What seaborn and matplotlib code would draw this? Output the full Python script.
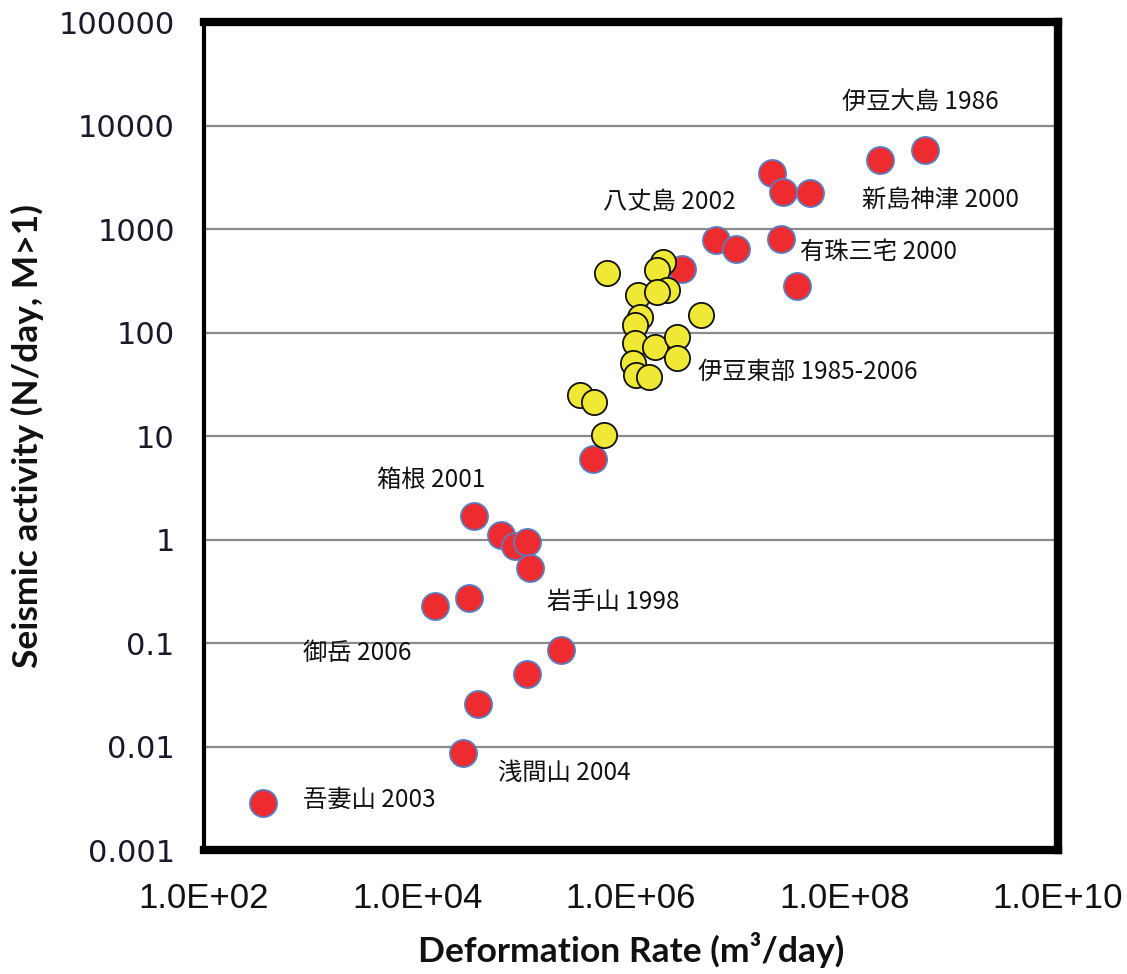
import matplotlib
matplotlib.use("Agg")
import matplotlib.pyplot as plt
import seaborn as sns
import pandas as pd
from matplotlib.ticker import FixedLocator, FixedFormatter

# ---------------- data ----------------
red_rate = [357, 26700, 36900, 106000, 221000, 14600, 30300, 33800, 60500, 81900,
            106000, 113000, 440000, 3.0e6, 6.25e6, 9.6e6, 2.09e7, 2.66e7, 4.75e7,
            2.54e7, 3.59e7, 2.15e8, 5.68e8]
red_seis = [0.00284, 0.00865, 0.0258, 0.0501, 0.0855, 0.228, 0.272, 1.69, 1.10, 0.865,
            0.946, 0.531, 6.0, 411, 783, 641, 3480, 2280, 2230,
            800, 281, 4650, 5800]

yel_rate = [5.92e5, 1.98e6, 1.74e6, 1.17e6, 2.16e6, 1.74e6, 1.21e6, 1.09e6, 4.50e6,
            1.09e6, 1.68e6, 2.68e6, 2.68e6, 1.04e6, 1.12e6, 1.49e6, 3.33e5, 4.50e5, 5.58e5]
yel_seis = [373, 483, 402, 230, 258, 248, 142, 118, 148,
            78.7, 73, 91, 56.3, 50.4, 38.8, 37.4, 24.9, 21.4, 10.2]

label_names = ["伊豆大島 1986", "新島神津 2000", "八丈島 2002", "有珠三宅 2000",
               "伊豆東部 1985-2006", "箱根 2001", "岩手山 1998", "御岳 2006",
               "浅間山 2004", "吾妻山 2003"]
label_x = [9.5e7, 1.46e8, 5.47e5, 3.79e7, 4.25e6, 4180, 1.63e5, 846, 56700, 846]
label_y = [16900, 1905, 1820, 600, 41.5, 3.76, 0.249, 0.080, 0.00555, 0.00304]

x_ticks = [1e2, 1e4, 1e6, 1e8, 1e10]
x_ticklabels = ["1.0E+02", "1.0E+04", "1.0E+06", "1.0E+08", "1.0E+10"]
y_ticks = [0.001, 0.01, 0.1, 1, 10, 100, 1000, 10000, 100000]
y_ticklabels = ["0.001", "0.01", "0.1", "1", "10", "100", "1000", "10000", "100000"]

red_df = pd.DataFrame({"rate": red_rate, "seis": red_seis})
yel_df = pd.DataFrame({"rate": yel_rate, "seis": yel_seis})

# ---------------- style ----------------
sns.set_theme(style="white")
plt.rcParams["font.family"] = ["Noto Sans CJK JP", "DejaVu Sans"]

fig = plt.figure(figsize=(11.27, 9.74), dpi=100)
ax = fig.add_axes([0.1810, 0.1273, 0.7578, 0.8501])
ax.set_xscale("log")
ax.set_yscale("log")
ax.set_xlim(1e2, 1e10)
ax.set_ylim(1e-3, 1e5)

# grid lines
for yv in y_ticks[1:-1]:
    ax.axhline(yv, color="#8a8a8a", lw=1.6, zorder=0)

sns.scatterplot(data=red_df, x="rate", y="seis", ax=ax, color="#EE2B2F",
                edgecolor="#5A7EC0", linewidth=1.3, s=380, zorder=3, legend=False)
sns.scatterplot(data=yel_df, x="rate", y="seis", ax=ax, color="#EFE834",
                edgecolor="#111111", linewidth=1.3, s=330, zorder=4, legend=False)

for name, lx, ly in zip(label_names, label_x, label_y):
    ax.text(lx, ly, name, ha="left", va="center", fontsize=17.5,
            family=["Noto Sans CJK JP", "DejaVu Sans"], color="#111111", zorder=5)

# ticks
ax.xaxis.set_major_locator(FixedLocator(x_ticks))
ax.xaxis.set_major_formatter(FixedFormatter(x_ticklabels))
ax.xaxis.set_minor_locator(FixedLocator([]))
ax.yaxis.set_major_locator(FixedLocator(y_ticks))
ax.yaxis.set_major_formatter(FixedFormatter(y_ticklabels))
ax.yaxis.set_minor_locator(FixedLocator([]))
ax.tick_params(axis="x", which="major", direction="out", length=7, width=1.4,
               color="#8a8a8a", pad=16, labelsize=25)
ax.tick_params(axis="y", which="major", direction="out", length=5, width=1.4,
               color="#8a8a8a", pad=16, labelsize=22)
for t in ax.get_xticklabels():
    t.set_family(["Liberation Sans", "DejaVu Sans"])
    t.set_color("#111111")
for t in ax.get_yticklabels():
    t.set_family(["DejaVu Sans"])
    t.set_color("#1a1a2a")

# frame
for side in ["top", "right", "bottom"]:
    ax.spines[side].set_color("black")
    ax.spines[side].set_linewidth(6)
ax.spines["left"].set_color("black")
ax.spines["left"].set_linewidth(3)

ax.set_xlabel("Deformation Rate (m³/day)", fontsize=25.5, fontweight="bold",
              family=["Lato", "DejaVu Sans"], color="#111111", va="center")
ax.set_ylabel("Seismic activity (N/day, M>1)", fontsize=25.5, fontweight="bold",
              family=["Lato", "DejaVu Sans"], color="#111111", va="center")
ax.xaxis.set_label_coords(0.5, -0.121)
ax.yaxis.set_label_coords(-0.207, 0.5)

fig.savefig("out.png", dpi=100)
